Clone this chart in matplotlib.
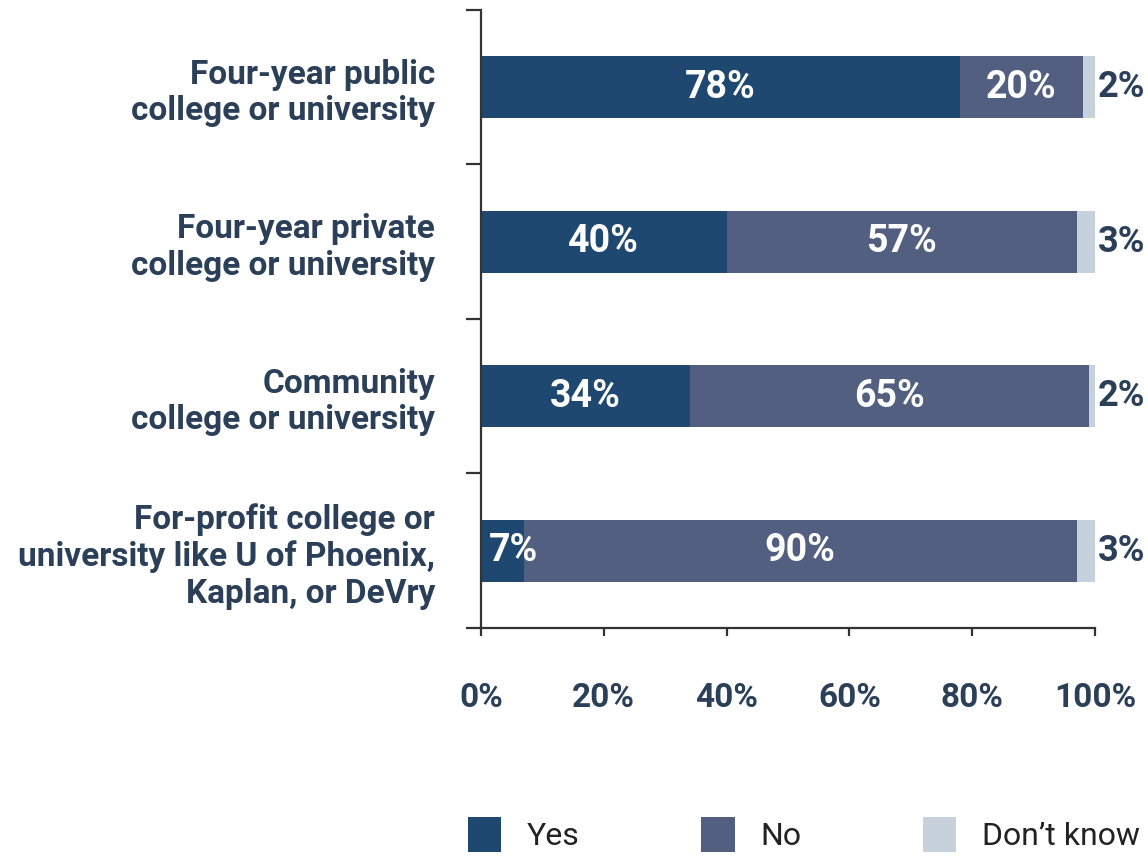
import matplotlib
matplotlib.use("Agg")
import matplotlib.pyplot as plt
import numpy as np

plt.rcParams['font.family'] = ['Roboto', 'DejaVu Sans']

# survey shares per institution type (percent)
categories = ["Four-year public\ncollege or university",
              "Four-year private\ncollege or university",
              "Community\ncollege or university",
              "For-profit college or\nuniversity like U of Phoenix,\nKaplan, or DeVry"]
yes = [78, 40, 34, 7]
no = [20, 57, 65, 90]
dont_know = [2, 3, 2, 3]
series_names = ["Yes", "No", "Don\u2019t know"]
x_ticks = [0, 20, 40, 60, 80, 100]
x_tick_labels = ["0%", "20%", "40%", "60%", "80%", "100%"]

colors = ["#1f4870", "#525f80", "#c6d1dc"]
navy = "#2b4058"
axis_col = "#333333"

fig = plt.figure(figsize=(11.48, 8.57), dpi=100)
ax = fig.add_axes([481 / 1148, 229 / 857, 614 / 1148, 618 / 857])

y = np.arange(len(categories))
h = 0.4
yes_a = np.array(yes)
no_a = np.array(no)
dk_a = np.array(dont_know)

b1 = ax.barh(y, yes_a, height=h, color=colors[0], label=series_names[0])
b2 = ax.barh(y, no_a, left=yes_a, height=h, color=colors[1], label=series_names[1])
b3 = ax.barh(y, dk_a, left=yes_a + no_a, height=h, color=colors[2], label=series_names[2])

fs_cat = 24
fs_in = 27
fs_out = 26
for i in range(len(categories)):
    ax.text(yes_a[i] / 2 + (1.8 if yes_a[i] < 10 else 0), y[i], f"{yes[i]}%",
            ha="center", va="center", color="white", fontsize=fs_in, fontweight="bold")
    ax.text(yes_a[i] + no_a[i] / 2, y[i], f"{no[i]}%",
            ha="center", va="center", color="white", fontsize=fs_in, fontweight="bold")
    ax.annotate(f"{dont_know[i]}%", xy=(100, y[i]), xytext=(2, 0),
                textcoords="offset points", ha="left", va="center",
                color=navy, fontsize=fs_out, fontweight="bold", annotation_clip=False)

ax.set_xlim(0, 100)
ax.set_ylim(len(categories) - 0.5, -0.5)

# tick marks sit on category boundaries, labels on centres
ax.set_yticks(np.arange(-0.5, len(categories), 1.0))
ax.set_yticklabels([])
ax.set_yticks(y, minor=True)
ax.set_yticklabels(categories, minor=True, fontsize=fs_cat, fontweight="bold",
                   color=navy, linespacing=1.18)
ax.tick_params(axis="y", which="minor", length=0, pad=33)
ax.tick_params(axis="y", which="major", length=11, width=1.6, color=axis_col)

ax.set_xticks(x_ticks)
ax.set_xticklabels(x_tick_labels, fontsize=fs_cat, fontweight="bold", color=navy)
ax.tick_params(axis="x", length=6, width=1.6, color=axis_col, pad=33)

for s in ["top", "right"]:
    ax.spines[s].set_visible(False)
for s in ["left", "bottom"]:
    ax.spines[s].set_color(axis_col)
    ax.spines[s].set_linewidth(1.6)

leg = ax.legend(handles=[b1, b2, b3], loc="center", bbox_to_anchor=(0.70, 0.026),
                bbox_transform=fig.transFigure, ncol=3, frameon=False,
                fontsize=23, handlelength=1.05, handleheight=1.3,
                handletextpad=0.8, columnspacing=3.8, borderpad=0)
for t in leg.get_texts():
    t.set_color("#222222")

fig.savefig("out.png", dpi=100)
